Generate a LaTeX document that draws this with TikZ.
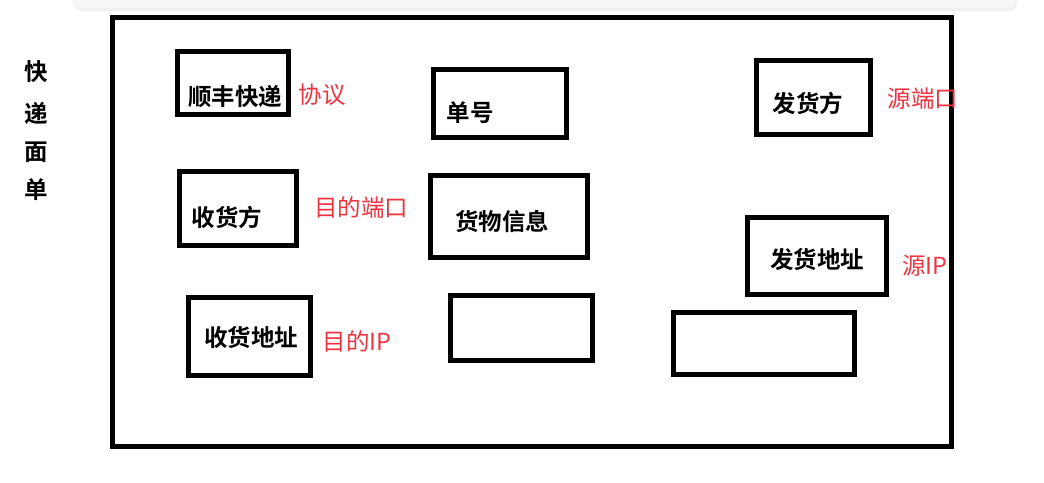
\documentclass[tikz,border=0pt]{standalone}
\usepackage{fontspec}
\newfontfamily\cjk{Noto Sans CJK SC}
\newfontfamily\cjkb{Noto Sans CJK SC Bold}
\definecolor{lblred}{RGB}{236,52,64}
\begin{document}
\begin{tikzpicture}[x=1pt,y=-1pt,
  box/.style={draw=black,line width=5pt,inner sep=0pt},
  bt/.style={font=\cjkb\fontsize{23.5}{26}\selectfont,inner sep=0pt,text=black},
  rt/.style={font=\cjk\fontsize{23.5}{26}\selectfont,inner sep=0pt,text=lblred}]
\useasboundingbox (0,0) rectangle (1044,482);
% top shadow bar
\fill[black!6,rounded corners=8pt] (74,-12) rectangle (1017,11);
\fill[black!3,rounded corners=8pt] (72,-12) rectangle (1015,8);
% frame
\node[box,minimum width=839pt,minimum height=428.5pt] (frame) at (532,232) {};
% side title
\node[bt] (t1) at (36,72) {快};
\node[bt] (t2) at (36,113) {递};
\node[bt] (t3) at (36,152) {面};
\node[bt] (t4) at (36,190) {单};
% boxes
\node[box,minimum width=111pt,minimum height=63pt] (sf) at (232.5,82.5) {};
\node[bt] (sft) at (235,97) {顺丰快递};
\node[box,minimum width=133pt,minimum height=68pt] (dh) at (499.5,103) {};
\node[bt] (dht) at (470,113) {单号};
\node[box,minimum width=114pt,minimum height=74pt] (fhf) at (813,97) {};
\node[bt] (fhft) at (808,103) {发货方};
\node[box,minimum width=117pt,minimum height=74pt] (shf) at (237.5,208) {};
\node[bt] (shft) at (227,217) {收货方};
\node[box,minimum width=157pt,minimum height=82pt] (hw) at (509,216.5) {};
\node[bt] (hwt) at (502,221) {货物信息};
\node[box,minimum width=139pt,minimum height=77pt] (fhdz) at (816.5,255.5) {};
\node[bt] (fhdzt) at (817,259) {发货地址};
\node[box,minimum width=122pt,minimum height=78pt] (shdz) at (249,336) {};
\node[bt] (shdzt) at (251,338) {收货地址};
\node[box,minimum width=142pt,minimum height=65pt] (e1) at (521,327.5) {};
\node[box,minimum width=181pt,minimum height=62pt] (e2) at (763.5,343) {};
% red labels
\node[rt] (l1) at (322,95) {协议};
\node[rt] (l2) at (923,99) {源端口};
\node[rt] (l3) at (361,208) {目的端口};
\node[rt] (l4) at (925,266) {源IP};
\node[rt] (l5) at (357,341) {目的IP};
\end{tikzpicture}
\end{document}
